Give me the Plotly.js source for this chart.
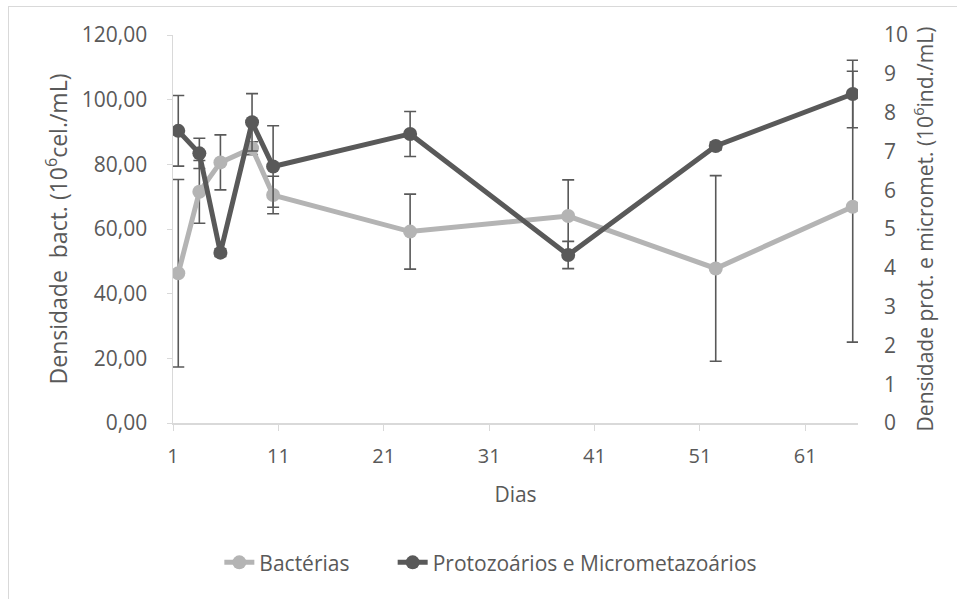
<!DOCTYPE html>
<html>
<head>
<meta charset="utf-8">
<script src="https://cdn.plot.ly/plotly-3.0.1.min.js"></script>
<style>
html,body{margin:0;padding:0;background:#fff;}
#frame{position:absolute;left:8px;top:6px;width:1000px;height:700px;border-left:1px solid #d9d9d9;border-top:1px solid #d9d9d9;}
#chart{position:absolute;left:0;top:0;width:957px;height:599px;}
</style>
</head>
<body>
<div id="frame"></div>
<div id="chart"></div>
<script>
const dias = [1.5, 3.5, 5.5, 8.5, 10.5, 23.5, 38.5, 52.5, 65.5];
const bacterias = [46.3, 71.5, 80.6, 85.0, 70.5, 59.2, 64.0, 47.8, 66.9];
const bacteriasErro = [29.0, 9.7, 8.5, 2.0, 5.8, 11.6, 11.2, 28.7, 41.9];
const protozoarios = [7.53, 6.95, 4.39, 7.75, 6.61, 7.45, 4.33, 7.14, 8.48];
const protozoariosErro = [0.91, 0.39, 0.1, 0.74, 1.05, 0.58, 0.35, 0.1, 0.87];
const xTicks = [1, 11, 21, 31, 41, 51, 61];

const font = 'Open Sans, sans-serif';
const txt = '#595959';

const traces = [
  {
    x: dias, y: bacterias, name: 'Bactérias\u00a0\u00a0\u00a0\u00a0\u00a0\u00a0\u00a0', type: 'scatter', mode: 'lines+markers',
    line: {color: '#b4b4b4', width: 5}, marker: {color: '#b4b4b4', size: 14},
    error_y: {type: 'data', array: bacteriasErro, visible: true, color: '#595959', thickness: 1.6, width: 6},
    yaxis: 'y'
  },
  {
    x: dias, y: protozoarios, name: 'Protozoários e Micrometazoários', type: 'scatter', mode: 'lines+markers',
    line: {color: '#595959', width: 5}, marker: {color: '#595959', size: 14},
    error_y: {type: 'data', array: protozoariosErro, visible: true, color: '#595959', thickness: 1.6, width: 6},
    yaxis: 'y2'
  }
];

const layout = {
  width: 957, height: 599,
  paper_bgcolor: 'rgba(0,0,0,0)', plot_bgcolor: 'rgba(0,0,0,0)',
  separators: ',.',
  margin: {l: 173, r: 99, t: 35, b: 176},
  font: {family: font, color: txt, size: 21},
  showlegend: true,
  legend: {orientation: 'h', x: 0.464, xanchor: 'center', y: -0.36, yanchor: 'middle',
    font: {family: font, size: 21, color: txt}, traceorder: 'normal'},
  xaxis: {
    range: [1, 66], tickmode: 'array', tickvals: xTicks, ticktext: xTicks.map(String),
    showgrid: false, zeroline: false, showline: true, linecolor: '#d9d9d9', linewidth: 1.5,
    ticks: 'outside', ticklen: 6, tickcolor: '#d9d9d9', ticklabelstandoff: 8,
    tickfont: {family: font, size: 20, color: txt},
    title: {text: 'Dias', font: {family: font, size: 21, color: txt}, standoff: 20}
  },
  yaxis: {
    range: [0, 120], tickmode: 'linear', tick0: 0, dtick: 20, tickformat: '.2f',
    showgrid: false, zeroline: false, showline: true, linecolor: '#d9d9d9', linewidth: 1.5,
    ticks: 'outside', ticklen: 5, tickcolor: '#d9d9d9', ticklabelstandoff: 15,
    tickfont: {family: font, size: 21, color: txt},
    title: {text: 'Densidade\u00a0 bact. (10<sup>6</sup>cel./mL)', font: {family: font, size: 23, color: txt}, standoff: 8}
  },
  yaxis2: {
    range: [0, 10], tickmode: 'linear', tick0: 0, dtick: 1, overlaying: 'y', side: 'right',
    showgrid: false, zeroline: false, showline: false,
    ticks: '', ticklabelstandoff: 25,
    tickfont: {family: font, size: 21, color: txt},
    title: {text: 'Densidade prot. e micromet. (10<sup>6</sup>ind./mL)', font: {family: font, size: 21, color: txt}, standoff: 6}
  }
};

Plotly.newPlot('chart', traces, layout, {displayModeBar: false, staticPlot: true});
</script>
</body>
</html>
